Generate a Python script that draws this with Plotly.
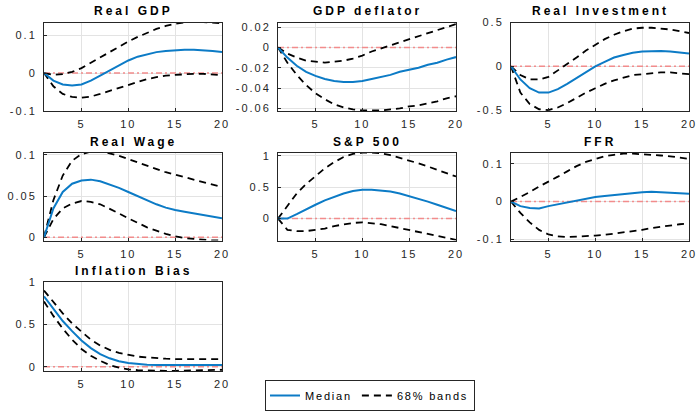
import plotly.graph_objects as go

horizon = list(range(1, 21))

gdp_med = [0, -0.02, -0.03, -0.033, -0.03, -0.02, -0.007, 0.006, 0.02, 0.033,
           0.043, 0.05, 0.055, 0.058, 0.06, 0.061, 0.061, 0.06, 0.058, 0.055]
gdp_hi = [0, -0.005, -0.003, 0.003, 0.013, 0.027, 0.042, 0.057, 0.07, 0.083,
          0.095, 0.106, 0.116, 0.124, 0.13, 0.133, 0.135, 0.134, 0.133, 0.131]
gdp_lo = [0, -0.035, -0.055, -0.063, -0.065, -0.062, -0.055, -0.047, -0.038, -0.03,
          -0.022, -0.016, -0.011, -0.007, -0.005, -0.003, -0.002, -0.002, -0.004, -0.006]

defl_med = [0, -0.01, -0.018, -0.024, -0.028, -0.031, -0.033, -0.034, -0.034, -0.033,
            -0.031, -0.029, -0.027, -0.024, -0.022, -0.02, -0.017, -0.015, -0.012, -0.0095]
defl_hi = [0, -0.006, -0.01, -0.013, -0.014, -0.015, -0.014, -0.013, -0.011, -0.008,
           -0.004, -0.001, 0.002, 0.005, 0.008, 0.011, 0.014, 0.017, 0.02, 0.023]
defl_lo = [0, -0.015, -0.027, -0.037, -0.045, -0.051, -0.056, -0.059, -0.061, -0.062,
           -0.062, -0.062, -0.061, -0.06, -0.058, -0.057, -0.055, -0.053, -0.05, -0.048]

inv_med = [0, -0.15, -0.25, -0.3, -0.3, -0.26, -0.2, -0.13, -0.06, 0.0,
           0.05, 0.1, 0.13, 0.155, 0.17, 0.175, 0.175, 0.17, 0.16, 0.145]
inv_hi = [0, -0.1, -0.15, -0.15, -0.12, -0.05, 0.03, 0.1, 0.18, 0.25,
          0.31, 0.36, 0.4, 0.43, 0.44, 0.44, 0.43, 0.42, 0.4, 0.38]
inv_lo = [0, -0.3, -0.43, -0.49, -0.5, -0.47, -0.42, -0.36, -0.3, -0.25,
          -0.2, -0.16, -0.13, -0.1, -0.09, -0.08, -0.07, -0.07, -0.08, -0.09]

wage_med = [0, 0.035, 0.055, 0.065, 0.069, 0.07, 0.068, 0.064, 0.06, 0.055,
            0.05, 0.045, 0.04, 0.036, 0.033, 0.031, 0.029, 0.027, 0.025, 0.023]
wage_hi = [0, 0.045, 0.075, 0.093, 0.101, 0.104, 0.104, 0.102, 0.099, 0.095,
           0.091, 0.087, 0.083, 0.079, 0.076, 0.073, 0.07, 0.067, 0.064, 0.061]
wage_lo = [0, 0.022, 0.035, 0.041, 0.044, 0.043, 0.04, 0.035, 0.029, 0.023,
           0.017, 0.012, 0.008, 0.004, 0.001, -0.001, -0.002, -0.003, -0.004, -0.004]

sp_med = [0, 0.0, 0.07, 0.15, 0.22, 0.29, 0.35, 0.4, 0.44, 0.46,
          0.46, 0.45, 0.43, 0.4, 0.36, 0.32, 0.27, 0.22, 0.17, 0.12]
sp_hi = [0, 0.2, 0.4, 0.55, 0.68, 0.8, 0.9, 0.98, 1.03, 1.05,
         1.05, 1.04, 1.01, 0.97, 0.93, 0.88, 0.83, 0.78, 0.73, 0.67]
sp_lo = [0, -0.18, -0.2, -0.2, -0.18, -0.16, -0.12, -0.09, -0.07, -0.06,
         -0.07, -0.09, -0.12, -0.15, -0.18, -0.22, -0.25, -0.28, -0.31, -0.34]

ffr_med = [0, -0.012, -0.017, -0.018, -0.012, -0.007, -0.002, 0.003, 0.008, 0.012,
           0.015, 0.018, 0.021, 0.023, 0.025, 0.026, 0.025, 0.024, 0.023, 0.021]
ffr_hi = [0, 0.012, 0.025, 0.04, 0.052, 0.066, 0.08, 0.094, 0.105, 0.113,
          0.12, 0.124, 0.127, 0.127, 0.126, 0.124, 0.122, 0.12, 0.117, 0.113]
ffr_lo = [0, -0.03, -0.055, -0.075, -0.087, -0.092, -0.094, -0.093, -0.092, -0.09,
          -0.088, -0.085, -0.082, -0.078, -0.075, -0.07, -0.066, -0.063, -0.06, -0.058]

bias_med = [0.83, 0.68, 0.54, 0.42, 0.31, 0.22, 0.15, 0.1, 0.065, 0.045,
            0.032, 0.025, 0.022, 0.02, 0.02, 0.02, 0.02, 0.02, 0.02, 0.02]
bias_hi = [0.9, 0.76, 0.63, 0.51, 0.41, 0.32, 0.25, 0.2, 0.165, 0.14,
           0.12, 0.11, 0.1, 0.095, 0.09, 0.09, 0.09, 0.09, 0.09, 0.09]
bias_lo = [0.77, 0.6, 0.45, 0.32, 0.21, 0.13, 0.07, 0.02, -0.01, -0.03,
           -0.04, -0.045, -0.048, -0.048, -0.048, -0.045, -0.043, -0.04, -0.037, -0.035]

titles = ["Real GDP", "GDP deflator", "Real Investment", "Real Wage",
          "S&P 500", "FFR", "Inflation Bias"]
medians = [gdp_med, defl_med, inv_med, wage_med, sp_med, ffr_med, bias_med]
uppers = [gdp_hi, defl_hi, inv_hi, wage_hi, sp_hi, ffr_hi, bias_hi]
lowers = [gdp_lo, defl_lo, inv_lo, wage_lo, sp_lo, ffr_lo, bias_lo]
y_ranges = [[-0.1, 0.133], [-0.0625, 0.0245], [-0.51, 0.5], [-0.004, 0.103],
            [-0.35, 1.053], [-0.103, 0.13], [-0.05, 1.0]]
y_tickvals = [[-0.1, 0, 0.1], [-0.06, -0.04, -0.02, 0, 0.02], [-0.5, 0, 0.5],
              [0, 0.05, 0.1], [0, 0.5, 1], [-0.1, 0, 0.1], [0, 0.5, 1]]
y_ticktext = [["-0.1", "0", "0.1"], ["-0.06", "-0.04", "-0.02", "0", "0.02"],
              ["-0.5", "0", "0.5"], ["0", "0.05", "0.1"], ["0", "0.5", "1"],
              ["-0.1", "0", "0.1"], ["0", "0.5", "1"]]
x_tickvals = [5, 10, 15, 20]
x_ticktext = ["5", "10", "15", "20"]
legend_names = ["Median", "68% bands"]

W, H = 699, 411
col_px = [(44, 222), (278, 456), (511, 689)]
row_px = [(22.5, 111), (152.5, 240.5), (282, 371)]

BLUE = "#0C7BC6"
ZERO = "#F28C8C"
TXT = "#262626"
FONT = "Liberation Sans"


def sp(t, ls=2):
    return f'<span style="letter-spacing:{ls}px">{t}</span>'


fig = go.Figure()
layout = dict(
    width=W, height=H, margin=dict(l=0, r=0, t=0, b=0, autoexpand=False),
    paper_bgcolor="white", plot_bgcolor="white",
    font=dict(family=FONT, size=11, color=TXT),
    showlegend=True,
    legend=dict(orientation="h", x=370 / W, xanchor="center", y=0, yanchor="bottom",
                bordercolor="#262626", borderwidth=1, bgcolor="white",
                font=dict(family=FONT, size=11, color="black"),
                itemwidth=30, tracegroupgap=0),
)
annotations = []

for i in range(len(titles)):
    r, c = divmod(i, 3)
    suffix = "" if i == 0 else str(i + 1)
    xa, ya = "x" + suffix, "y" + suffix
    x0, x1 = col_px[c]
    y0, y1 = row_px[r]

    fig.add_trace(go.Scatter(
        x=[horizon[0], horizon[-1]], y=[0, 0], mode="lines",
        line=dict(color=ZERO, width=1.5, dash="6px,3px,2px,3px"),
        xaxis=xa, yaxis=ya, showlegend=False, hoverinfo="skip"))
    fig.add_trace(go.Scatter(
        x=horizon, y=uppers[i], mode="lines", name=sp(legend_names[1], 1.8),
        line=dict(color="black", width=1.8, dash="7px,5px"),
        xaxis=xa, yaxis=ya, legendgroup="bands", legendrank=2,
        showlegend=(i == 0)))
    fig.add_trace(go.Scatter(
        x=horizon, y=lowers[i], mode="lines", name=sp(legend_names[1], 1.8),
        line=dict(color="black", width=1.8, dash="7px,5px"),
        xaxis=xa, yaxis=ya, legendgroup="bands", showlegend=False))
    fig.add_trace(go.Scatter(
        x=horizon, y=medians[i], mode="lines", name=sp(legend_names[0], 1.8),
        line=dict(color=BLUE, width=2),
        xaxis=xa, yaxis=ya, legendgroup="med", legendrank=1,
        showlegend=(i == 0)))

    common = dict(showgrid=True, gridcolor="#E3E3E3", gridwidth=1,
                  ticks="inside", ticklen=3, tickcolor=TXT, tickwidth=1,
                  showline=True, linecolor=TXT, linewidth=1, mirror=True,
                  zeroline=False, automargin=False,
                  tickfont=dict(family=FONT, size=11, color=TXT))
    layout["xaxis" + suffix] = dict(
        domain=[x0 / W, x1 / W], range=[horizon[0], horizon[-1]], anchor=ya,
        tickmode="array", tickvals=x_tickvals, ticktext=[sp(t) for t in x_ticktext],
        ticklabelstandoff=3, **common)
    layout["yaxis" + suffix] = dict(
        domain=[1 - y1 / H, 1 - y0 / H], range=y_ranges[i], anchor=xa,
        tickmode="array", tickvals=y_tickvals[i], ticktext=[sp(t) for t in y_ticktext[i]],
        ticklabelstandoff=4, **common)

    annotations.append(dict(
        text="<b>" + sp(titles[i].replace("&", "&amp;"), 3) + "</b>",
        x=(x0 + x1) / 2 / W, y=1 - y0 / H, xref="paper", yref="paper",
        xanchor="center", yanchor="bottom", yshift=2, showarrow=False,
        font=dict(family=FONT, size=12, color="black")))

layout["annotations"] = annotations
fig.update_layout(**layout)
fig.write_html("out.html")
